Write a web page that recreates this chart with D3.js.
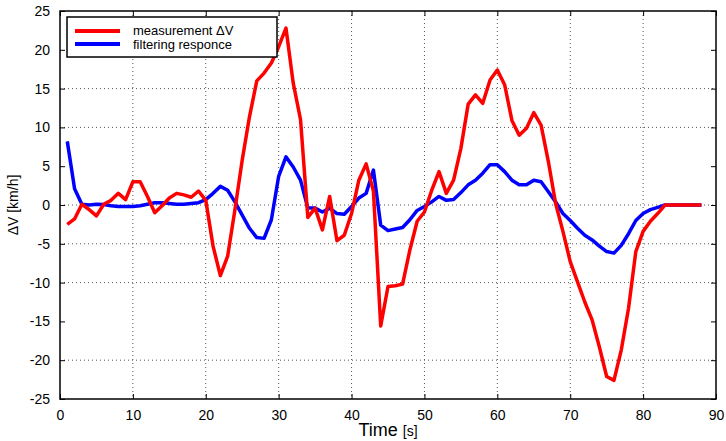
<!DOCTYPE html>
<html>
<head>
<meta charset="utf-8">
<script src="https://cdn.jsdelivr.net/npm/d3@7"></script>
<style>
  body { margin: 0; background: white; }
  text { font-family: "Liberation Sans", Arial, Helvetica, sans-serif; }
</style>
</head>
<body>
<svg id="chart" width="726" height="441"></svg>
<script>
// time axis, one sample per second
const time = d3.range(1, 89)

// measured speed difference (red)
const measurement = [
  -2.5, -1.8, 0.1, -0.6, -1.4, 0.1, 0.6, 1.5, 0.7, 3.0,
  3.0, 1.1, -1.0, -0.1, 0.9, 1.5, 1.3, 1.0, 1.8, 0.6,
  -5.3, -9.1, -6.6, -0.6, 5.8, 11.4, 16.0, 17.0, 18.3, 20.4,
  22.8, 15.7, 11.0, -1.6, -0.4, -3.2, 1.1, -4.6, -3.9, -1.1,
  3.2, 5.3, 1.8, -15.6, -10.5, -10.4, -10.2, -5.8, -2.1, -0.9,
  1.9, 4.3, 1.5, 3.2, 7.3, 13.0, 14.2, 13.1, 16.1, 17.4,
  15.5, 10.9, 9.0, 9.9, 11.9, 10.3, 5.6, 0.2, -3.4, -7.3,
  -9.9, -12.5, -14.8, -18.3, -22.1, -22.6, -18.7, -13.3, -6.0, -3.4,
  -2.1, -1.1, 0, 0, 0, 0, 0, 0
]

// filter output (blue)
const response = [
  8.2, 2.1, 0.1, 0.0, 0.1, 0.05, -0.1, -0.2, -0.2, -0.2,
  -0.1, 0.1, 0.3, 0.3, 0.2, 0.1, 0.1, 0.2, 0.3, 0.7,
  1.5, 2.4, 1.9, 0.4, -1.3, -3.0, -4.2, -4.3, -1.9, 3.7,
  6.2, 4.9, 3.2, -0.4, -0.4, -0.9, -0.4, -1.1, -1.2, -0.2,
  0.9, 1.5, 4.5, -2.6, -3.3, -3.1, -2.9, -1.9, -0.7, -0.2,
  0.4, 1.1, 0.6, 0.7, 1.6, 2.6, 3.2, 4.1, 5.2, 5.2,
  4.3, 3.2, 2.6, 2.6, 3.2, 3.0, 1.7, 0.4, -1.1, -2.0,
  -3.0, -3.9, -4.5, -5.3, -6.0, -6.2, -5.2, -3.7, -2.0, -1.1,
  -0.6, -0.3, 0, 0, 0, 0, 0, 0
]

const xTicks = d3.range(0, 91, 10)
const yTicks = d3.range(-25, 26, 5)
// grid lines that show up in the picture
const xGrid = d3.range(10, 81, 10)
const yGrid = [-20, -10, -5, 0, 10, 15]

const legendLabels = ["measurement \u0394V", "filtering responce"]
const colours = ["#ff0000", "#0000ff"]

let svg = d3.select("#chart"),
    margin = {top: 11, right: 10, bottom: 42, left: 60},
    width = +svg.attr("width") - margin.left - margin.right,
    height = +svg.attr("height") - margin.top - margin.bottom,
    focus = svg.append("g")
               .attr("transform", "translate(" + margin.left + "," + margin.top + ")")

let x = d3.scaleLinear()
          .domain([0, 90])
          .range([0, width])

let y = d3.scaleLinear()
          .domain([-25, 25])
          .range([height, 0])

// dotted grid
focus.selectAll(".grid.v")
     .data(xGrid)
     .join("line")
     .attr("class", "grid v")
     .attr("x1", d => x(d)).attr("x2", d => x(d))
     .attr("y1", 0).attr("y2", height)
     .attr("stroke", "#555")
     .attr("stroke-width", 1)
     .attr("stroke-dasharray", "1,3")

focus.selectAll(".grid.h")
     .data(yGrid)
     .join("line")
     .attr("class", "grid h")
     .attr("x1", 0).attr("x2", width)
     .attr("y1", d => y(d)).attr("y2", d => y(d))
     .attr("stroke", "#555")
     .attr("stroke-width", 1)
     .attr("stroke-dasharray", "1,3")

// axes with inward ticks on all four sides
function styleAxis(g){
  g.select(".domain").remove()
  g.selectAll(".tick line").attr("stroke", "#000").attr("stroke-width", 1)
  g.selectAll(".tick text")
   .attr("fill", "#000")
   .style("font-size", "14px")
}

focus.append("g")
     .attr("transform", "translate(0," + height + ")")
     .call(d3.axisBottom(x).tickValues(xTicks).tickSizeInner(-5).tickSizeOuter(0)
             .tickPadding(11).tickFormat(d => String(d)))
     .call(styleAxis)

focus.append("g")
     .call(d3.axisLeft(y).tickValues(yTicks).tickSizeInner(-5).tickSizeOuter(0)
             .tickPadding(10).tickFormat(d => String(d)))
     .call(styleAxis)

focus.append("g")
     .call(d3.axisTop(x).tickValues(xTicks).tickSizeInner(-5).tickSizeOuter(0).tickFormat(""))
     .call(styleAxis)

focus.append("g")
     .attr("transform", "translate(" + width + ",0)")
     .call(d3.axisRight(y).tickValues(yTicks).tickSizeInner(-5).tickSizeOuter(0).tickFormat(""))
     .call(styleAxis)

// frame
focus.append("rect")
     .attr("x", 0).attr("y", 0)
     .attr("width", width).attr("height", height)
     .attr("fill", "none")
     .attr("stroke", "#000")
     .attr("stroke-width", 1.5)

let line = d3.line()
             .x(d => x(d[0]))
             .y(d => y(d[1]))

// blue underneath, red on top
let series = [measurement, response]
;[1, 0].forEach(i => {
  focus.append("path")
       .datum(time.map((t, j) => [t, series[i][j]]))
       .attr("fill", "none")
       .attr("stroke", colours[i])
       .attr("stroke-width", 3.5)
       .attr("stroke-linejoin", "round")
       .attr("d", line)
})

// legend
let legend = svg.append("g")
                .attr("transform", "translate(67,17)")

legend.append("rect")
      .attr("width", 210)
      .attr("height", 40)
      .attr("fill", "white")
      .attr("stroke", "#000")
      .attr("stroke-width", 1.5)

legendLabels.forEach((label, i) => {
  legend.append("line")
        .attr("x1", 8).attr("x2", 53)
        .attr("y1", 14 + i * 13).attr("y2", 14 + i * 13)
        .attr("stroke", colours[i])
        .attr("stroke-width", 4)
  legend.append("text")
        .attr("x", 66)
        .attr("y", 17.5 + i * 14.5)
        .style("font-size", "13px")
        .text(label)
})

// axis labels
svg.append("text")
   .attr("transform", "translate(18," + (margin.top + height / 2) + ") rotate(-90)")
   .attr("text-anchor", "middle")
   .style("font-size", "14px")
   .text("\u0394V [km/h]")

let xl = svg.append("text")
            .attr("x", margin.left + width / 2)
            .attr("y", 436)
            .attr("text-anchor", "middle")
xl.append("tspan").style("font-size", "18px").text("Time ")
xl.append("tspan").style("font-size", "14px").text("[s]")
</script>
</body>
</html>
